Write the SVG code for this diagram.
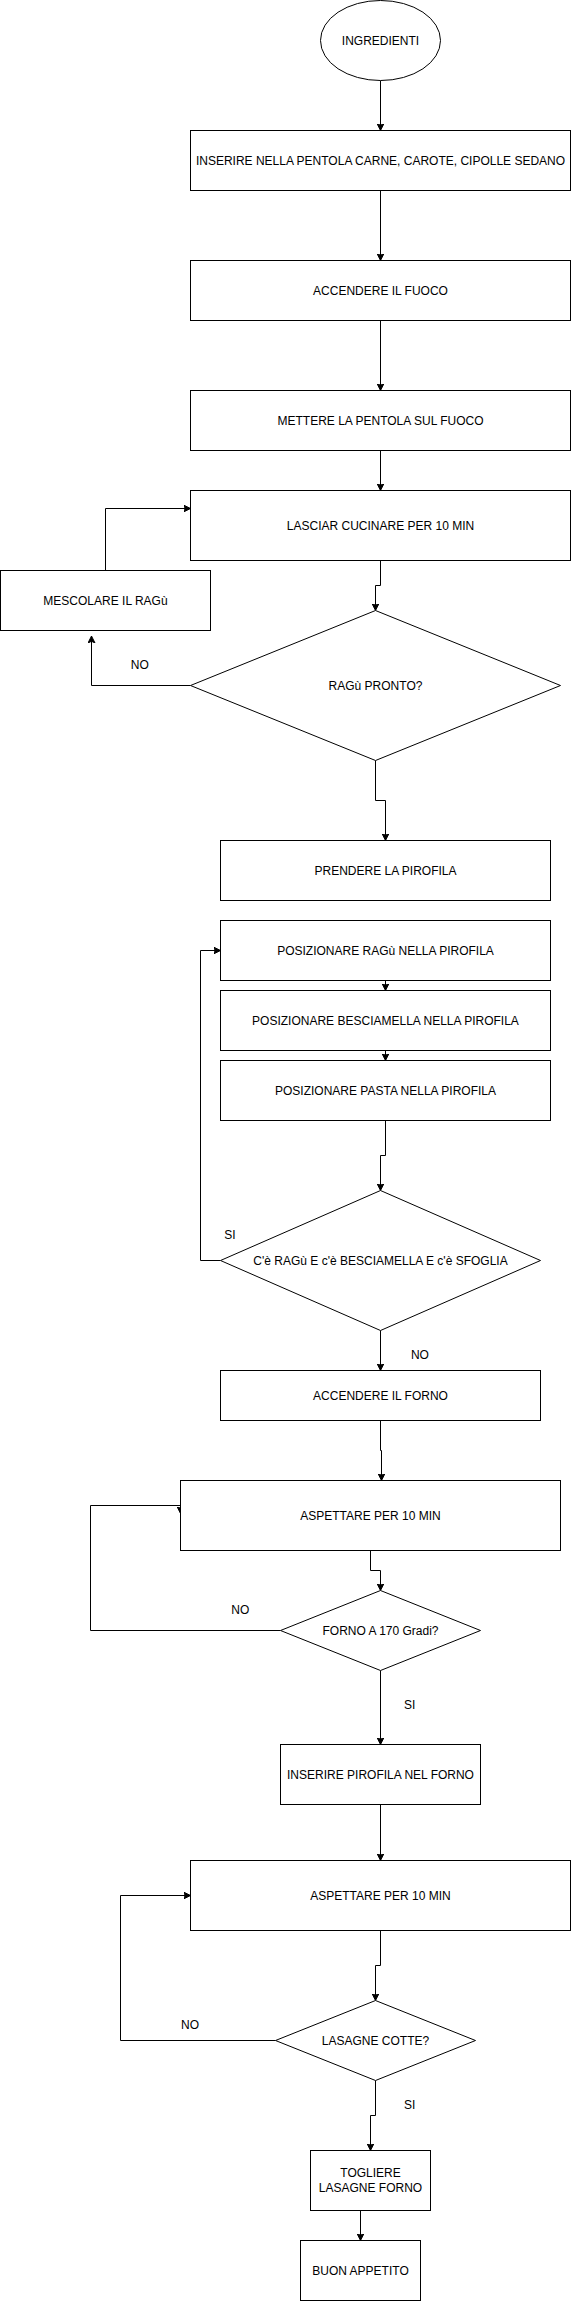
<svg xmlns="http://www.w3.org/2000/svg" width="571" height="2301" viewBox="0 0 571 2301">
<style>
.n{fill:#fff;stroke:#000;stroke-width:1}
.t{font-family:"Liberation Sans",Arial,sans-serif;font-size:12px;fill:#000;text-anchor:middle}
.c{fill:none;stroke:#000;stroke-width:1}
</style>
<defs>
<marker id="a" markerUnits="userSpaceOnUse" markerWidth="10" markerHeight="10" refX="7" refY="3.5" orient="auto">
<path d="M0,0 L7,3.5 L0,7 L1.75,3.5 Z" fill="#000" stroke="#000" stroke-width="1"/>
</marker>
</defs>
<rect width="571" height="2301" fill="#fff"/>
<g id="connectors">
<path class="c" marker-end="url(#a)" d="M380.5,80.5 V130.5"/>
<path class="c" marker-end="url(#a)" d="M380.5,190.5 V260.5"/>
<path class="c" marker-end="url(#a)" d="M380.5,320.5 V390.5"/>
<path class="c" marker-end="url(#a)" d="M380.5,450.5 V490.5"/>
<path class="c" marker-end="url(#a)" d="M380.5,560.5 V585.5 H375.5 V610.5"/>
<path class="c" marker-end="url(#a)" d="M190.5,685.5 H91.5 V636"/>
<path class="c" marker-end="url(#a)" d="M105.5,570.5 V508.5 H190.5"/>
<path class="c" marker-end="url(#a)" d="M375.5,760.5 V800.5 H385.5 V840.5"/>
<path class="c" marker-end="url(#a)" d="M385.5,980.5 V990.5"/>
<path class="c" marker-end="url(#a)" d="M385.5,1050.5 V1060.5"/>
<path class="c" marker-end="url(#a)" d="M385.5,1120.5 V1155.5 H380.5 V1190.5"/>
<path class="c" marker-end="url(#a)" d="M220.5,1260.5 H200.5 V950.5 H220.5"/>
<path class="c" marker-end="url(#a)" d="M380.5,1330.5 V1370.5"/>
<path class="c" marker-end="url(#a)" d="M380.5,1420.5 V1450.5 H381.5 V1480.5"/>
<path class="c" marker-end="url(#a)" d="M370.5,1550.5 V1570.5 H380.5 V1590.5"/>
<path class="c" marker-end="url(#a)" d="M280.5,1630.5 H90.5 V1505.5 H180.5 V1513.5"/>
<path class="c" marker-end="url(#a)" d="M380.5,1670.5 V1744.5"/>
<path class="c" marker-end="url(#a)" d="M380.5,1804.5 V1860.5"/>
<path class="c" marker-end="url(#a)" d="M380.5,1930.5 V1965.5 H375.5 V2000.5"/>
<path class="c" marker-end="url(#a)" d="M275.5,2040.5 H120.5 V1895.5 H190.5"/>
<path class="c" marker-end="url(#a)" d="M375.5,2080.5 V2115.5 H370.5 V2150.5"/>
<path class="c" marker-end="url(#a)" d="M360.5,2210.5 V2240.5"/>
<text class="t" x="139.8" y="668.5">NO</text>
<text class="t" x="229.8" y="1238.5">SI</text>
<text class="t" x="419.9" y="1358.5">NO</text>
<text class="t" x="240.3" y="1614">NO</text>
<text class="t" x="409.7" y="1709">SI</text>
<text class="t" x="190.1" y="2028.5">NO</text>
<text class="t" x="409.7" y="2109">SI</text>
</g>
<g id="ingredienti"><ellipse class="n" cx="380.5" cy="40.5" rx="60" ry="40"/><text class="t" x="380.5" y="44.5">INGREDIENTI</text></g>
<g id="inserire"><rect class="n" x="190.5" y="130.5" width="380" height="60"/><text class="t" x="380.5" y="164.5">INSERIRE NELLA PENTOLA CARNE, CAROTE, CIPOLLE SEDANO</text></g>
<g id="accendere-fuoco"><rect class="n" x="190.5" y="260.5" width="380" height="60"/><text class="t" x="380.5" y="294.5">ACCENDERE IL FUOCO</text></g>
<g id="mettere"><rect class="n" x="190.5" y="390.5" width="380" height="60"/><text class="t" x="380.5" y="424.5">METTERE LA PENTOLA SUL FUOCO</text></g>
<g id="lasciar"><rect class="n" x="190.5" y="490.5" width="380" height="70"/><text class="t" x="380.5" y="529.5">LASCIAR CUCINARE PER 10 MIN</text></g>
<g id="mescolare"><rect class="n" x="0.5" y="570.5" width="210" height="60"/><text class="t" x="105.5" y="604.5">MESCOLARE IL RAGù</text></g>
<g id="ragu-pronto"><polygon class="n" points="375.5,610.5 560.5,685.5 375.5,760.5 190.5,685.5"/><text class="t" x="375.5" y="689.5">RAGù PRONTO?</text></g>
<g id="prendere"><rect class="n" x="220.5" y="840.5" width="330" height="60"/><text class="t" x="385.5" y="874.5">PRENDERE LA PIROFILA</text></g>
<g id="pos-ragu"><rect class="n" x="220.5" y="920.5" width="330" height="60"/><text class="t" x="385.5" y="954.5">POSIZIONARE RAGù NELLA PIROFILA</text></g>
<g id="pos-besciamella"><rect class="n" x="220.5" y="990.5" width="330" height="60"/><text class="t" x="385.5" y="1024.5">POSIZIONARE BESCIAMELLA NELLA PIROFILA</text></g>
<g id="pos-pasta"><rect class="n" x="220.5" y="1060.5" width="330" height="60"/><text class="t" x="385.5" y="1094.5">POSIZIONARE PASTA NELLA PIROFILA</text></g>
<g id="ce-ragu"><polygon class="n" points="380.5,1190.5 540.5,1260.5 380.5,1330.5 220.5,1260.5"/><text class="t" x="380.5" y="1264.5">C'è RAGù E c'è BESCIAMELLA E c'è SFOGLIA</text></g>
<g id="accendere-forno"><rect class="n" x="220.5" y="1370.5" width="320" height="50"/><text class="t" x="380.5" y="1399.5">ACCENDERE IL FORNO</text></g>
<g id="aspettare1"><rect class="n" x="180.5" y="1480.5" width="380" height="70"/><text class="t" x="370.5" y="1519.5">ASPETTARE PER 10 MIN</text></g>
<g id="forno170"><polygon class="n" points="380.5,1590.5 480.5,1630.5 380.5,1670.5 280.5,1630.5"/><text class="t" x="380.5" y="1634.5">FORNO A 170 Gradi?</text></g>
<g id="inserire-pirofila"><rect class="n" x="280.5" y="1744.5" width="200" height="60"/><text class="t" x="380.5" y="1778.5">INSERIRE PIROFILA NEL FORNO</text></g>
<g id="aspettare2"><rect class="n" x="190.5" y="1860.5" width="380" height="70"/><text class="t" x="380.5" y="1899.5">ASPETTARE PER 10 MIN</text></g>
<g id="lasagne-cotte"><polygon class="n" points="375.5,2000.5 475.5,2040.5 375.5,2080.5 275.5,2040.5"/><text class="t" x="375.5" y="2044.5">LASAGNE COTTE?</text></g>
<g id="togliere"><rect class="n" x="310.5" y="2150.5" width="120" height="60"/><text class="t" x="370.5" y="2177">TOGLIERE</text><text class="t" x="370.5" y="2192">LASAGNE FORNO</text></g>
<g id="buon-appetito"><rect class="n" x="300.5" y="2240.5" width="120" height="60"/><text class="t" x="360.5" y="2274.5">BUON APPETITO</text></g>
</svg>
